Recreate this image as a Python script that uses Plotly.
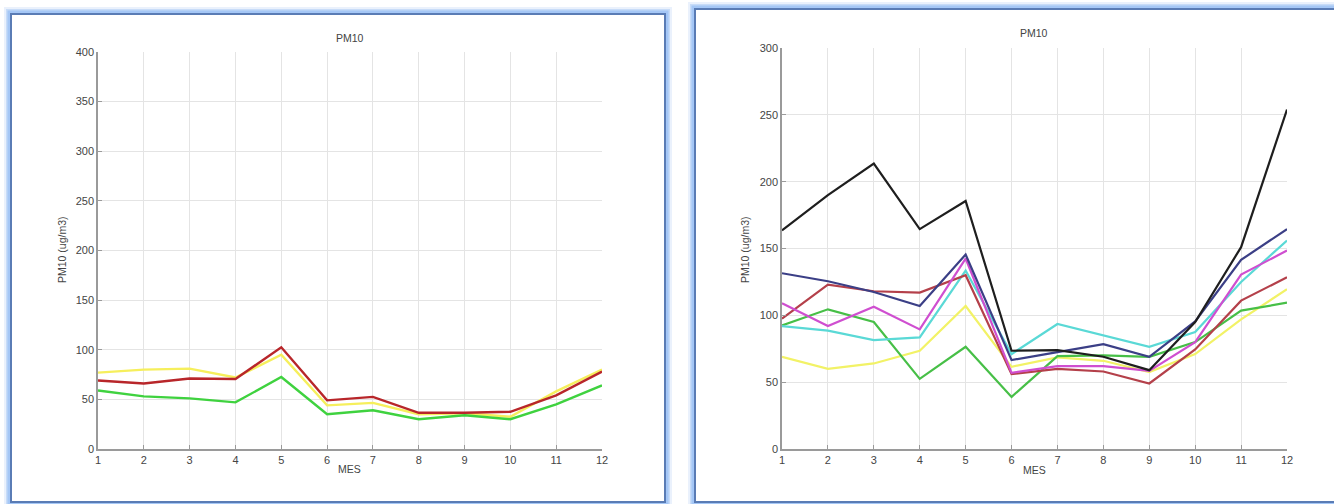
import plotly.graph_objects as go

W, H = 1334, 504

months = list(range(1, 13))

# Left panel series
left_red = [69, 66, 71, 70.5, 102.5, 49, 52.5, 36.5, 36.5, 37.5, 54, 78]
left_yellow = [77, 80, 81, 72, 95, 44, 46.5, 35, 36, 32.5, 58, 80]
left_green = [59, 53, 51, 47, 72.5, 35, 39, 30, 34, 30, 45, 64]

# Right panel series
right_black = [163.5, 190, 213.5, 164.5, 185.5, 73.5, 74, 69, 59, 95, 151, 254]
right_navy = [131.5, 125.5, 117.5, 107, 145.5, 66.5, 72.5, 78.5, 69, 95.5, 141.5, 164.5]
right_brown = [97.5, 123, 118, 117, 130, 56, 60, 58, 49, 74.5, 111, 128.5]
right_magenta = [109, 92, 106.5, 89.5, 142.5, 57, 62, 62, 58.5, 80, 130.5, 148.5]
right_cyan = [92, 88.5, 81.5, 83.5, 133.5, 71, 93.5, 85, 76.5, 87.5, 125, 156]
right_yellow = [69, 60, 64, 73.5, 107, 61.5, 68.5, 66, 57.5, 71, 97, 119.5]
right_green = [92.5, 104.5, 95, 52.5, 76.5, 39, 69.5, 70, 69, 80, 103.5, 109.5]

left_series = [
    ("yellow", left_yellow, "#f6ef5c"),
    ("red", left_red, "#b8262a"),
    ("green", left_green, "#3fd23f"),
]
right_series = [
    ("yellow", right_yellow, "#f2f266"),
    ("green", right_green, "#47bf47"),
    ("cyan", right_cyan, "#5ad9d6"),
    ("brown", right_brown, "#b4404a"),
    ("magenta", right_magenta, "#cf4fd0"),
    ("navy", right_navy, "#3b3f86"),
    ("black", right_black, "#1e1e1e"),
]

fig = go.Figure()

for name, ys, col in left_series:
    fig.add_trace(go.Scatter(x=months, y=ys, mode="lines", name=name,
                             line=dict(color=col, width=2.4),
                             xaxis="x", yaxis="y", showlegend=False))
for name, ys, col in right_series:
    fig.add_trace(go.Scatter(x=months, y=ys, mode="lines", name=name,
                             line=dict(color=col, width=2.2),
                             xaxis="x2", yaxis="y2", showlegend=False))

def px(x):
    return x / W

def py(y):
    return 1 - y / H

font = dict(family="Liberation Sans, Arial, sans-serif", size=11, color="#444444")

axis_common = dict(
    showgrid=True, gridcolor="#e4e4e4", gridwidth=1,
    showline=True, linecolor="#9a9a9a", linewidth=1.5,
    ticks="inside", ticklen=4, tickcolor="#9a9a9a",
    zeroline=False, tickfont=font, mirror=False, automargin=False,
)

fig.update_layout(
    width=W, height=H,
    margin=dict(l=0, r=0, t=0, b=0, autoexpand=False),
    paper_bgcolor="white", plot_bgcolor="white",
    xaxis=dict(domain=[px(98), px(602)], range=[1, 12], tickvals=months,
               anchor="y", **axis_common),
    yaxis=dict(domain=[py(449), py(52)], range=[0, 400], dtick=50,
               anchor="x", **axis_common),
    xaxis2=dict(domain=[px(782), px(1287)], range=[1, 12], tickvals=months,
                anchor="y2", **axis_common),
    yaxis2=dict(domain=[py(449), py(48)], range=[0, 300], dtick=50,
                anchor="x2", **axis_common),
)

# Frames with soft blue glow
def frame(x0, y0, x1, y1):
    for w, c in [(12, "rgba(170,200,245,0.25)"), (8, "rgba(160,195,245,0.45)"),
                 (5, "rgba(150,190,245,0.7)")]:
        fig.add_shape(type="rect", xref="paper", yref="paper",
                      x0=px(x0), x1=px(x1), y0=py(y0), y1=py(y1),
                      line=dict(color=c, width=w), fillcolor="rgba(0,0,0,0)",
                      layer="below")
    fig.add_shape(type="rect", xref="paper", yref="paper",
                  x0=px(x0 + 1), x1=px(x1 - 1), y0=py(y0 + 1), y1=py(y1 - 1),
                  line=dict(color="#5a7cb5", width=2), fillcolor="white",
                  layer="below")

frame(10, 13, 666, 503)
frame(694, 8, 1345, 503)

small = dict(family="Liberation Sans, Arial, sans-serif", size=10.5, color="#444444")

annos = [
    dict(text="PM10", x=px(350), y=py(38), font=small),
    dict(text="MES", x=px(350), y=py(469), font=small),
    dict(text="PM10 (ug/m3)", x=px(62), y=py(250), textangle=-90, font=small),
    dict(text="PM10", x=px(1034), y=py(33), font=small),
    dict(text="MES", x=px(1034), y=py(470), font=small),
    dict(text="PM10 (ug/m3)", x=px(745), y=py(250), textangle=-90, font=small),
]
for a in annos:
    fig.add_annotation(xref="paper", yref="paper", showarrow=False,
                       xanchor="center", yanchor="middle", **a)

fig.write_html(
    "out.html",
    config={"displayModeBar": False},
    post_script="document.body.style.margin='0';document.body.style.overflow='hidden';",
)
